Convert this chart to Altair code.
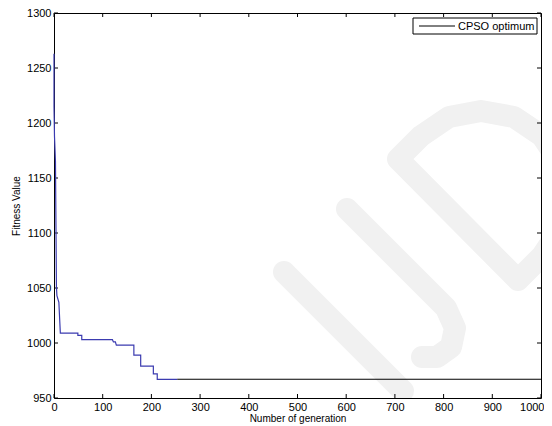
import altair as alt
import pandas as pd

# Blue (early convergence) segment of the curve
gen_blue = [0, 0, 1, 3, 5, 6, 10, 13, 49, 49, 57, 57, 120, 122, 126, 128, 164, 164, 178, 178, 204, 204, 212, 212, 253]
fit_blue = [1263, 1215, 1188, 1165, 1051, 1043, 1037, 1009, 1009, 1007, 1007, 1003, 1003, 1001, 1001, 998, 998, 989, 989, 979, 979, 972, 972, 967, 967]
# Black segment (plateau)
gen_black = [253, 1000]
fit_black = [967, 967]
series_name = "CPSO optimum"

x_ticks = list(range(0, 1001, 100))
y_ticks = list(range(950, 1301, 50))

# Faint "IJD" watermark strokes (decoration, page pixel coordinates)
OX, OY = 54, 13
wm_part = ["I"] * 2 + ["J"] * 6 + ["D"] * 12
wm_px = [284, 403,
         347, 446, 455, 451, 437, 422,
         518, 398, 421, 449, 481, 514, 542, 560, 566, 560, 542, 518]
wm_py = [272, 391,
         209, 308, 328, 347, 357, 357,
         280, 159, 136, 117, 111, 117, 136, 163, 196, 229, 256, 280]

blue_df = pd.DataFrame({"gen": gen_blue, "fit": fit_blue, "i": list(range(len(gen_blue)))})
black_df = pd.DataFrame({"gen": gen_black, "fit": fit_black, "i": [0, 1], "name": [series_name] * 2})
wm_df = pd.DataFrame({"part": wm_part, "px": [v - OX for v in wm_px], "py": [v - OY for v in wm_py],
                      "i": list(range(len(wm_part)))})
leg_df = pd.DataFrame({"name": [series_name]})

TL_X = 4 / 1.1      # inward tick length in y-data units
TL_Y = 4 / 0.487    # inward tick length in x-data units
xt = pd.DataFrame({"v": x_ticks})
yt = pd.DataFrame({"v": y_ticks})
xt_bot = xt.assign(a=950, b=950 + TL_X)
xt_top = xt.assign(a=1300, b=1300 - TL_X)
yt_l = yt.assign(a=0, b=TL_Y)
yt_r = yt.assign(a=1000, b=1000 - TL_Y)

xs = alt.Scale(domain=[0, 1000], nice=False, zero=False)
ys = alt.Scale(domain=[950, 1300], nice=False, zero=False)

FONT = "Liberation Sans"
xaxis = alt.Axis(title="Number of generation", values=x_ticks, format="d", ticks=False, domain=False, grid=False,
                 labelFont=FONT, labelFontSize=11, labelPadding=3, labelFlush=True, labelFlushOffset=3,
                 labelColor="black",
                 titleFont=FONT, titleFontSize=10, titleFontWeight="normal", titleColor="black", titlePadding=1)
yaxis = alt.Axis(title="Fitness Value", values=y_ticks, format="d", ticks=False, domain=False, grid=False,
                 labelFont=FONT, labelFontSize=11, labelPadding=3, labelColor="black",
                 titleFont=FONT, titleFontSize=10, titleFontWeight="normal", titleColor="black", titlePadding=5)

watermark = alt.Chart(wm_df).mark_line(color="#f1f1f1", strokeWidth=22, strokeCap="round",
                                       strokeJoin="round", clip=True).encode(
    x=alt.X("px:Q", scale=None, axis=None),
    y=alt.Y("py:Q", scale=None, axis=None),
    detail="part:N",
    order="i:Q",
)

blue = alt.Chart(blue_df).mark_line(color="#3b3bb0", strokeWidth=1.2).encode(
    x=alt.X("gen:Q", scale=xs, axis=xaxis),
    y=alt.Y("fit:Q", scale=ys, axis=yaxis),
    order="i:Q",
)
black = alt.Chart(black_df).mark_line(color="black", strokeWidth=1.1).encode(
    x=alt.X("gen:Q", scale=xs),
    y=alt.Y("fit:Q", scale=ys),
    order="i:Q",
)

def ticks(df, vertical):
    if vertical:
        return alt.Chart(df).mark_rule(color="black", strokeWidth=1).encode(
            x=alt.X("v:Q", scale=xs), y=alt.Y("a:Q", scale=ys), y2="b:Q")
    return alt.Chart(df).mark_rule(color="black", strokeWidth=1).encode(
        y=alt.Y("v:Q", scale=ys), x=alt.X("a:Q", scale=xs), x2="b:Q")

# Legend box drawn manually (MATLAB style)
leg_box = alt.Chart(leg_df).mark_rect(fill="white", stroke="black", strokeWidth=1).encode(
    x=alt.value(359), x2=alt.value(483), y=alt.value(5), y2=alt.value(21))
leg_line = alt.Chart(leg_df).mark_rule(color="black", strokeWidth=1).encode(
    x=alt.value(365), x2=alt.value(401), y=alt.value(13))
leg_text = alt.Chart(leg_df).mark_text(align="left", baseline="middle", font=FONT, fontSize=11,
                                       color="black").encode(
    x=alt.value(404), y=alt.value(13.5), text="name:N")

chart = alt.layer(
    watermark,
    ticks(xt_bot, True), ticks(xt_top, True), ticks(yt_l, False), ticks(yt_r, False),
    blue, black, leg_box, leg_line, leg_text,
).properties(
    width=487, height=385,
    autosize=alt.AutoSizeParams(type="none"),
    padding={"left": 46, "top": 5, "right": 3, "bottom": 28},
    background="white",
).configure_view(stroke="black", strokeWidth=1)

chart.save("out.html", embed_options={"renderer": "svg", "actions": False})
